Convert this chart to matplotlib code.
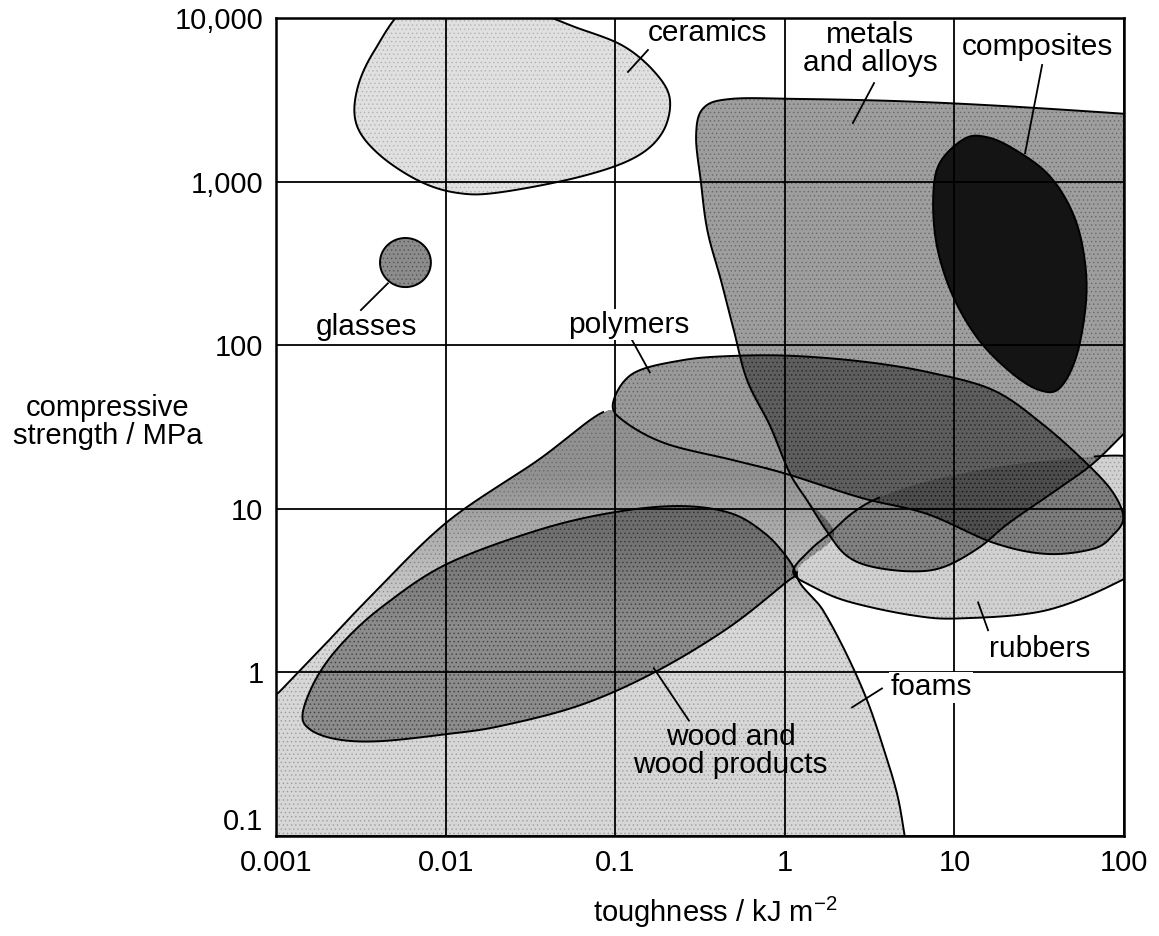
import numpy as np
import matplotlib.pyplot as plt
from matplotlib.patches import Polygon

plt.rcParams['font.family'] = ['Liberation Sans', 'DejaVu Sans']
plt.rcParams['mathtext.default'] = 'regular'
plt.rcParams['hatch.linewidth'] = 0.6

# material envelopes: toughness (kJ m^-2) and compressive strength (MPa) round each outline
ceramics_t = [0.0062, 0.0038, 0.0030, 0.0030, 0.0041, 0.0071, 0.012, 0.021, 0.062, 0.13, 0.19, 0.21, 0.17, 0.11, 0.058, 0.032, 0.014]
ceramics_s = [12000, 6300, 3600, 2200, 1450, 1000, 850, 860, 1070, 1400, 2000, 3200, 4700, 6800, 8800, 11000, 13000]

metals_t = [0.33, 0.48, 1.2, 4.8, 19, 99, 160, 160, 104, 66, 42, 21, 14, 8.6, 5.5, 3.2, 2.3, 1.8, 1.35, 1.07, 0.82, 0.60, 0.50, 0.42, 0.35, 0.32, 0.30]
metals_s = [2800, 3200, 3200, 3100, 2900, 2600, 2500, 46, 30, 19, 13.5, 8.2, 5.8, 4.4, 4.15, 4.45, 5.2, 7.1, 11.3, 16.5, 32, 61, 124, 250, 500, 1000, 1900]

composites_t = [11.5, 8.2, 7.5, 7.9, 9.8, 14, 22, 32, 42, 53, 60, 57, 48, 35, 22, 15.5]
composites_s = [1830, 1300, 800, 400, 200, 107, 67, 53, 55, 89, 200, 400, 700, 1130, 1600, 1870]

polymers_t = [0.097, 0.127, 0.25, 0.50, 1.13, 3.0, 7.2, 17, 33, 60, 86, 99, 86, 66, 35, 17, 6.9, 2.8, 1.03, 0.50, 0.20, 0.114]
polymers_s = [44, 67, 81, 86, 86, 79, 68, 53, 33, 19, 12.6, 8.8, 6.9, 5.7, 5.3, 6.2, 9.3, 11.7, 16.3, 19.8, 25, 34]

rubbers_t = [1.12, 1.41, 1.85, 2.5, 3.6, 7.2, 19, 42, 104, 175, 175, 99, 35, 11, 5.7, 2.4, 1.5]
rubbers_s = [4.1, 5.6, 7.1, 9.4, 11.7, 14.9, 18.2, 20, 21, 17, 5.6, 3.7, 2.4, 2.14, 2.23, 2.7, 3.3]

wood_t = [0.00144, 0.00177, 0.00255, 0.0044, 0.0102, 0.035, 0.097, 0.24, 0.48, 0.76, 1.03, 1.15, 1.0, 0.46, 0.17, 0.062, 0.021, 0.0102, 0.0041, 0.0023, 0.00158]
wood_s = [0.57, 0.96, 1.57, 2.6, 4.6, 7.4, 9.5, 10.4, 9.4, 7.1, 5.05, 4.0, 3.5, 1.86, 1.0, 0.63, 0.47, 0.42, 0.38, 0.39, 0.45]

foams_t = [0.0007, 0.00106, 0.0018, 0.0036, 0.0102, 0.035, 0.085, 0.114, 0.20, 0.50, 1.03, 1.35, 1.95, 1.18, 1.68, 2.3, 3.05, 3.8, 4.6, 5.1, 5.6, 0.0006]
foams_s = [0.49, 0.77, 1.36, 2.9, 8.3, 19.8, 39, 34, 25, 19.8, 16.3, 11.3, 6.9, 4.1, 2.4, 1.31, 0.68, 0.35, 0.18, 0.099, 0.054, 0.054]

glasses_centre = (0.0058, 320)
glasses_radius = 0.15   # decades

# labels and their leader lines
label_text = ['ceramics', 'metals\nand alloys', 'composites', 'glasses', 'polymers',
              'rubbers', 'foams', 'wood and\nwood products']
label_t = [0.35, 3.2, 31, 0.0034, 0.12, 32, 7.3, 0.48]
label_s = [8100, 6500, 6650, 129, 133, 1.40, 0.81, 0.333]
label_box = [True, True, True, True, True, True, True, False]
leader_t = [(0.156, 0.119), (3.36, 2.52), (32.9, 26.1), (0.00457, 0.00317), (0.126, 0.160),
            (13.8, 15.8), (3.74, 2.49), (0.169, 0.272)]
leader_s = [(6370, 4680), (4000, 2280), (5160, 1490), (239, 164), (107, 68.3),
            (2.68, 1.81), (0.798, 0.611), (1.06, 0.508)]

xticks = [0.001, 0.01, 0.1, 1, 10, 100]
xticklabels = ['0.001', '0.01', '0.1', '1', '10', '100']
yticks = [0.1, 1, 10, 100, 1000, 10000]
yticklabels = ['0.1', '1', '10', '100', '1,000', '10,000']

NSEG = 30


def smooth_closed(xs, ys, n=NSEG):
    # closed Catmull-Rom curve through the points, worked out in log space
    P = np.column_stack([np.log10(xs), np.log10(ys)])
    N = len(P)
    t = np.linspace(0, 1, n, endpoint=False)[:, None]
    out = []
    for i in range(N):
        p0, p1, p2, p3 = P[i - 1], P[i], P[(i + 1) % N], P[(i + 2) % N]
        seg = 0.5 * (2 * p1 + (-p0 + p2) * t + (2 * p0 - 5 * p1 + 4 * p2 - p3) * t ** 2
                     + (-p0 + 3 * p1 - 3 * p2 + p3) * t ** 3)
        out.append(seg)
    out = np.vstack(out)
    return 10 ** out


def speckle(ax, xy, alpha=0.25, z=1.05):
    # dotted overlay standing in for the printed screen
    ax.add_patch(Polygon(xy, closed=True, fc='none', ec=(0, 0, 0, alpha), lw=0,
                         hatch='....', zorder=z))


fig = plt.figure(figsize=(11.59, 9.36), dpi=100)
ax = fig.add_axes([0.2381, 0.1068, 0.7317, 0.874])
ax.set_xscale('log')
ax.set_yscale('log')
ax.set_xlim(0.001, 100)
ax.set_ylim(0.1, 10000)

lw = 1.4

# foams: shaded darker towards the top
foams_xy = smooth_closed(foams_t, foams_s)
foams_patch = Polygon(foams_xy, closed=True, fc='none', ec='none')
ax.add_patch(foams_patch)
tt = np.logspace(-3.5, 2.5, 3)
ss = np.logspace(-1.5, 4.5, 500)
ly = 0.5 * (np.log10(ss[:-1]) + np.log10(ss[1:]))
g = 0.84 - 0.27 * np.clip((ly - 0.3) / 0.9, 0, 1)
mesh = ax.pcolormesh(tt, ss, np.repeat(g[:, None], 2, axis=1), cmap='gray',
                     vmin=0, vmax=1, shading='flat', zorder=0.5)
mesh.set_clip_path(foams_patch)
speckle(ax, foams_xy, 0.2)
ax.plot(foams_xy[:6 * NSEG + 1, 0], foams_xy[:6 * NSEG + 1, 1], color='black', lw=lw, zorder=2)
ax.plot(foams_xy[13 * NSEG:20 * NSEG + 1, 0], foams_xy[13 * NSEG:20 * NSEG + 1, 1],
        color='black', lw=lw, zorder=2)

# ceramics and glasses
cer_xy = smooth_closed(ceramics_t, ceramics_s)
ax.add_patch(Polygon(cer_xy, closed=True, fc='0.88', ec='black', lw=lw, zorder=1))
speckle(ax, cer_xy, 0.15)
th = np.linspace(0, 2 * np.pi, 120)
gx = 10 ** (np.log10(glasses_centre[0]) + glasses_radius * np.cos(th))
gy = 10 ** (np.log10(glasses_centre[1]) + glasses_radius * np.sin(th))
gl_xy = np.column_stack([gx, gy])
ax.add_patch(Polygon(gl_xy, closed=True, fc='0.55', ec='black', lw=lw, zorder=1))
speckle(ax, gl_xy, 0.3)

# rubbers: top edge disappears under the polymers
rub_xy = smooth_closed(rubbers_t, rubbers_s)
ax.add_patch(Polygon(rub_xy, closed=True, fc=(0, 0, 0, 0.18), ec='none', zorder=1))
speckle(ax, rub_xy, 0.18)
rub_edge = np.vstack([rub_xy[7 * NSEG + NSEG // 2:], rub_xy[:4 * NSEG + 1]])
ax.plot(rub_edge[:, 0], rub_edge[:, 1], color='black', lw=lw, zorder=2)

# overlapping envelopes, darker where they overlap
for xs, ys, a in [(wood_t, wood_s, 0.35),
                  (metals_t, metals_s, 0.38),
                  (polymers_t, polymers_s, 0.4)]:
    xy = smooth_closed(xs, ys)
    ax.add_patch(Polygon(xy, closed=True, fc=(0, 0, 0, a), ec='black', lw=lw, zorder=1))
    speckle(ax, xy, 0.25)

ax.add_patch(Polygon(smooth_closed(composites_t, composites_s), closed=True,
                     fc='#141414', ec='black', lw=lw, zorder=1.2))

# labels
for s, x, y, box in zip(label_text, label_t, label_s, label_box):
    kw = dict(bbox=dict(fc='white', ec='none', pad=1)) if box else {}
    ax.text(x, y, s, ha='center', va='center', fontsize=21.5, linespacing=1.0,
            zorder=4, **kw)
for xs, ys in zip(leader_t, leader_s):
    ax.plot(xs, ys, color='black', lw=1.3, zorder=3)

# axes
ax.set_xticks(xticks)
ax.set_xticklabels(xticklabels)
ax.set_yticks(yticks)
ax.set_yticklabels(yticklabels)
ax.minorticks_off()
ax.tick_params(length=0, labelsize=21, pad=9)
ax.get_yticklabels()[0].set_va('bottom')
ax.set_axisbelow(False)
ax.grid(True, color='black', lw=1.3)
for sp in ax.spines.values():
    sp.set_linewidth(1.8)
    sp.set_zorder(5)

fig.text(715 / 1159, 1 - 912 / 936, 'toughness / kJ m$^{-2}$', ha='center', va='center', fontsize=21)
fig.text(108 / 1159, 1 - 422 / 936, 'compressive\nstrength / MPa', ha='center', va='center',
         fontsize=21, linespacing=1.0)

fig.savefig('out.png', dpi=100)
